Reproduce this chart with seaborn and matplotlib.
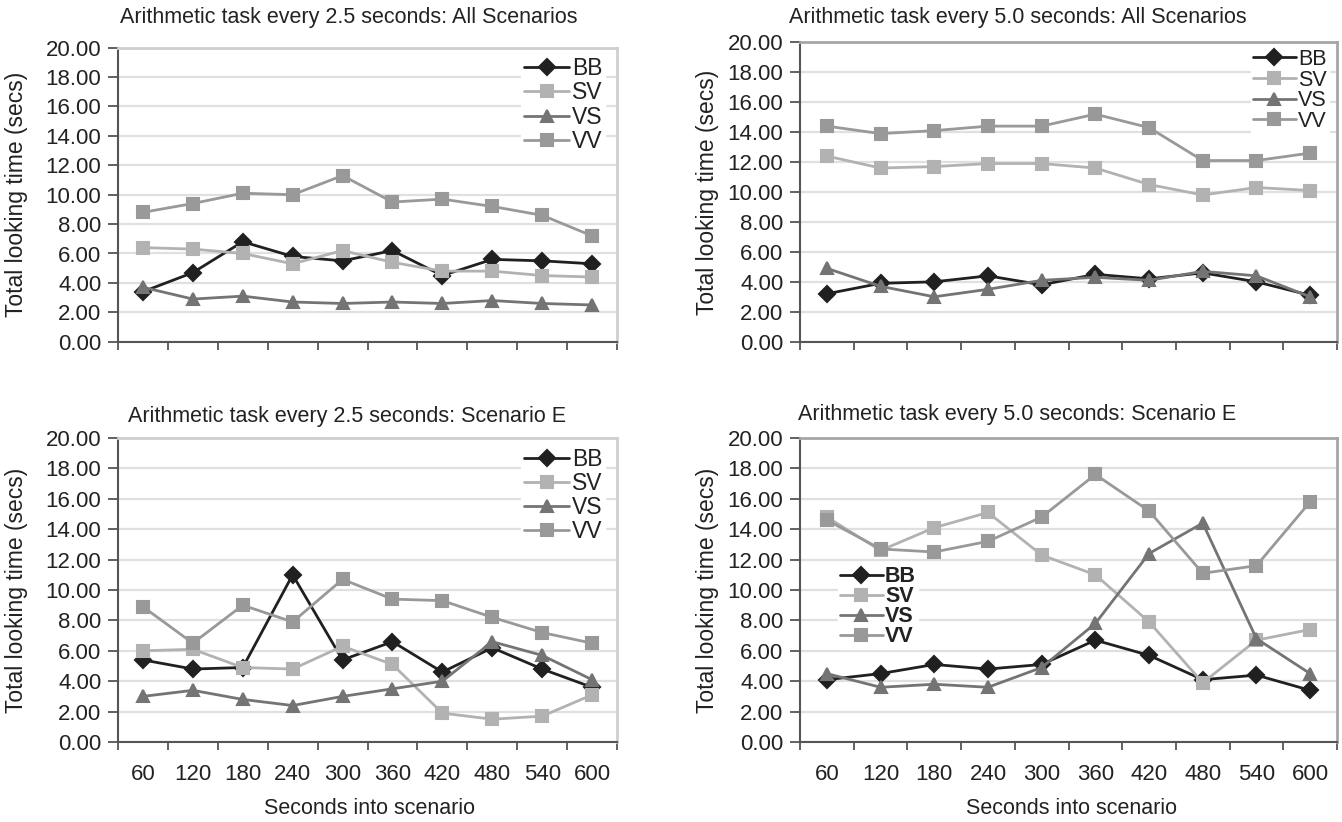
import matplotlib
matplotlib.use("Agg")
import matplotlib.pyplot as plt
import seaborn as sns
import pandas as pd
from matplotlib.ticker import FixedLocator

# ---------------- data ----------------
seconds = [60, 120, 180, 240, 300, 360, 420, 480, 540, 600]
series_names = ["BB", "SV", "VS", "VV"]

# Arithmetic task every 2.5 seconds: All Scenarios
a25_BB = [3.4, 4.7, 6.8, 5.8, 5.5, 6.2, 4.5, 5.6, 5.5, 5.3]
a25_SV = [6.4, 6.3, 6.0, 5.3, 6.2, 5.4, 4.8, 4.8, 4.5, 4.4]
a25_VS = [3.7, 2.9, 3.1, 2.7, 2.6, 2.7, 2.6, 2.8, 2.6, 2.5]
a25_VV = [8.8, 9.4, 10.1, 10.0, 11.3, 9.5, 9.7, 9.2, 8.6, 7.2]

# Arithmetic task every 5.0 seconds: All Scenarios
a50_BB = [3.2, 3.9, 4.0, 4.4, 3.8, 4.5, 4.2, 4.6, 4.0, 3.1]
a50_SV = [12.4, 11.6, 11.7, 11.9, 11.9, 11.6, 10.5, 9.8, 10.3, 10.1]
a50_VS = [4.9, 3.7, 3.0, 3.5, 4.1, 4.3, 4.1, 4.7, 4.4, 3.0]
a50_VV = [14.4, 13.9, 14.1, 14.4, 14.4, 15.2, 14.3, 12.1, 12.1, 12.6]

# Arithmetic task every 2.5 seconds: Scenario E
e25_BB = [5.4, 4.8, 4.9, 11.0, 5.4, 6.6, 4.6, 6.2, 4.8, 3.6]
e25_SV = [6.0, 6.1, 4.9, 4.8, 6.3, 5.1, 1.9, 1.5, 1.7, 3.1]
e25_VS = [3.0, 3.4, 2.8, 2.4, 3.0, 3.5, 4.0, 6.6, 5.7, 4.1]
e25_VV = [8.9, 6.5, 9.0, 7.9, 10.7, 9.4, 9.3, 8.2, 7.2, 6.5]

# Arithmetic task every 5.0 seconds: Scenario E
e50_BB = [4.1, 4.5, 5.1, 4.8, 5.1, 6.7, 5.7, 4.1, 4.4, 3.4]
e50_SV = [14.8, 12.6, 14.1, 15.1, 12.3, 11.0, 7.9, 3.9, 6.7, 7.4]
e50_VS = [4.5, 3.6, 3.8, 3.6, 4.9, 7.8, 12.4, 14.4, 6.8, 4.5]
e50_VV = [14.6, 12.7, 12.5, 13.2, 14.8, 17.6, 15.2, 11.1, 11.6, 15.8]

titles = [
    "Arithmetic task every 2.5 seconds: All Scenarios",
    "Arithmetic task every 5.0 seconds: All Scenarios",
    "Arithmetic task every 2.5 seconds: Scenario E",
    "Arithmetic task every 5.0 seconds: Scenario E",
]
y_ticks = [0, 2, 4, 6, 8, 10, 12, 14, 16, 18, 20]
ylabel = "Total looking time (secs)"
xlabel = "Seconds into scenario"

panels = [
    [a25_BB, a25_SV, a25_VS, a25_VV],
    [a50_BB, a50_SV, a50_VS, a50_VV],
    [e25_BB, e25_SV, e25_VS, e25_VV],
    [e50_BB, e50_SV, e50_VS, e50_VV],
]

# ---------------- style ----------------
sns.set_theme(style="white")
plt.rcParams["font.family"] = ["Liberation Sans", "DejaVu Sans"]

palette = {"BB": "#202020", "SV": "#b2b2b2", "VS": "#747474", "VV": "#999999"}
markers = ["D", "s", "^", "s"]

W, H = 1342, 822
fig = plt.figure(figsize=(W / 100, H / 100), dpi=100)

def rect(x0, x1, y0, y1):
    return [x0 / W, 1 - y1 / H, (x1 - x0) / W, (y1 - y0) / H]

ax_rects = [
    rect(118, 617, 47.7, 341.7),
    rect(800, 1337, 42.3, 341.7),
    rect(118, 617, 438, 742),
    rect(800, 1337, 438, 742),
]
title_pos = [(349, 17), (1018, 17), (347, 416), (1017, 414)]
frame_col = ["#cfcfcf", "#a6a6a6", "#cfcfcf", "#a6a6a6"]
ylab_x = [-0.18, -0.151, -0.18, -0.151]
legend_cfg = [
    dict(loc="upper right", bbox_to_anchor=(0.975, 0.975), labelspacing=0.05, fs=16.5, bold=False),
    dict(loc="upper right", bbox_to_anchor=(0.985, 0.985), labelspacing=-0.02, fs=15.5, bold=False),
    dict(loc="upper right", bbox_to_anchor=(0.975, 0.975), labelspacing=0.05, fs=16.5, bold=False),
    dict(loc="upper left", bbox_to_anchor=(0.07, 0.585), labelspacing=-0.05, fs=15.5, bold=True),
]

for i, (vals, r) in enumerate(zip(panels, ax_rects)):
    ax = fig.add_axes(r)
    rows = []
    for name, v in zip(series_names, vals):
        for s, y in zip(seconds, v):
            rows.append({"sec": str(s), "val": y, "series": name})
    df = pd.DataFrame(rows)
    sns.pointplot(
        data=df, x="sec", y="val", hue="series",
        order=[str(s) for s in seconds], hue_order=series_names,
        palette=palette, markers=markers, linestyles="-",
        errorbar=None, dodge=False, ax=ax,
        markersize=8, linewidth=2,
    )
    ax.set_xlim(-0.5, len(seconds) - 0.5)
    ax.set_ylim(0, 20)
    ax.set_yticks(y_ticks)
    ax.set_yticklabels([f"{t:.2f}" for t in y_ticks])
    ax.yaxis.grid(True, color="#e0e0e0", linewidth=1.6)
    ax.set_axisbelow(True)

    # x ticks: labels at categories, tick marks at boundaries
    ax.set_xticks(range(len(seconds)))
    ax.xaxis.set_minor_locator(FixedLocator([k - 0.5 for k in range(len(seconds) + 1)]))
    ax.tick_params(axis="x", which="major", length=0, pad=16, labelsize=16, colors="#222222")
    ax.tick_params(axis="x", which="minor", bottom=True, length=6, width=1.3, color="#555555")
    ax.tick_params(axis="y", which="major", left=True, length=7, width=1.3,
                   color="#555555", pad=5, labelsize=16, labelcolor="#222222")
    if i < 2:
        ax.set_xticklabels([])
        ax.set_xlabel("")
    else:
        ax.set_xticklabels([str(s) for s in seconds])
        ax.set_xlabel(xlabel, fontsize=15.5, color="#222222")
        ax.xaxis.set_label_coords(0.505, -0.185)

    ax.set_ylabel(ylabel, fontsize=16.5, color="#222222")
    ax.yaxis.set_label_coords(ylab_x[i], 0.5)

    for side in ["left", "bottom"]:
        ax.spines[side].set_color("#555555")
        ax.spines[side].set_linewidth(1.5)
    for side in ["top", "right"]:
        ax.spines[side].set_color(frame_col[i])
        ax.spines[side].set_linewidth(2)

    fig.text(title_pos[i][0] / W, 1 - title_pos[i][1] / H, titles[i],
             ha="center", va="center", fontsize=15.5, color="#222222")

    cfg = legend_cfg[i]
    handles, labels = ax.get_legend_handles_labels()
    if ax.get_legend() is not None:
        ax.get_legend().remove()
    leg = ax.legend(handles, labels, loc=cfg["loc"], bbox_to_anchor=cfg["bbox_to_anchor"],
                    frameon=True, fancybox=False, edgecolor="white", facecolor="white",
                    framealpha=1, fontsize=cfg["fs"], labelspacing=cfg["labelspacing"],
                    handlelength=2.0, handletextpad=0.1, borderpad=0.1, borderaxespad=0)
    for t in leg.get_texts():
        t.set_color("#222222")
        if cfg["bold"]:
            t.set_fontweight("bold")

fig.savefig("out.png", dpi=100)
